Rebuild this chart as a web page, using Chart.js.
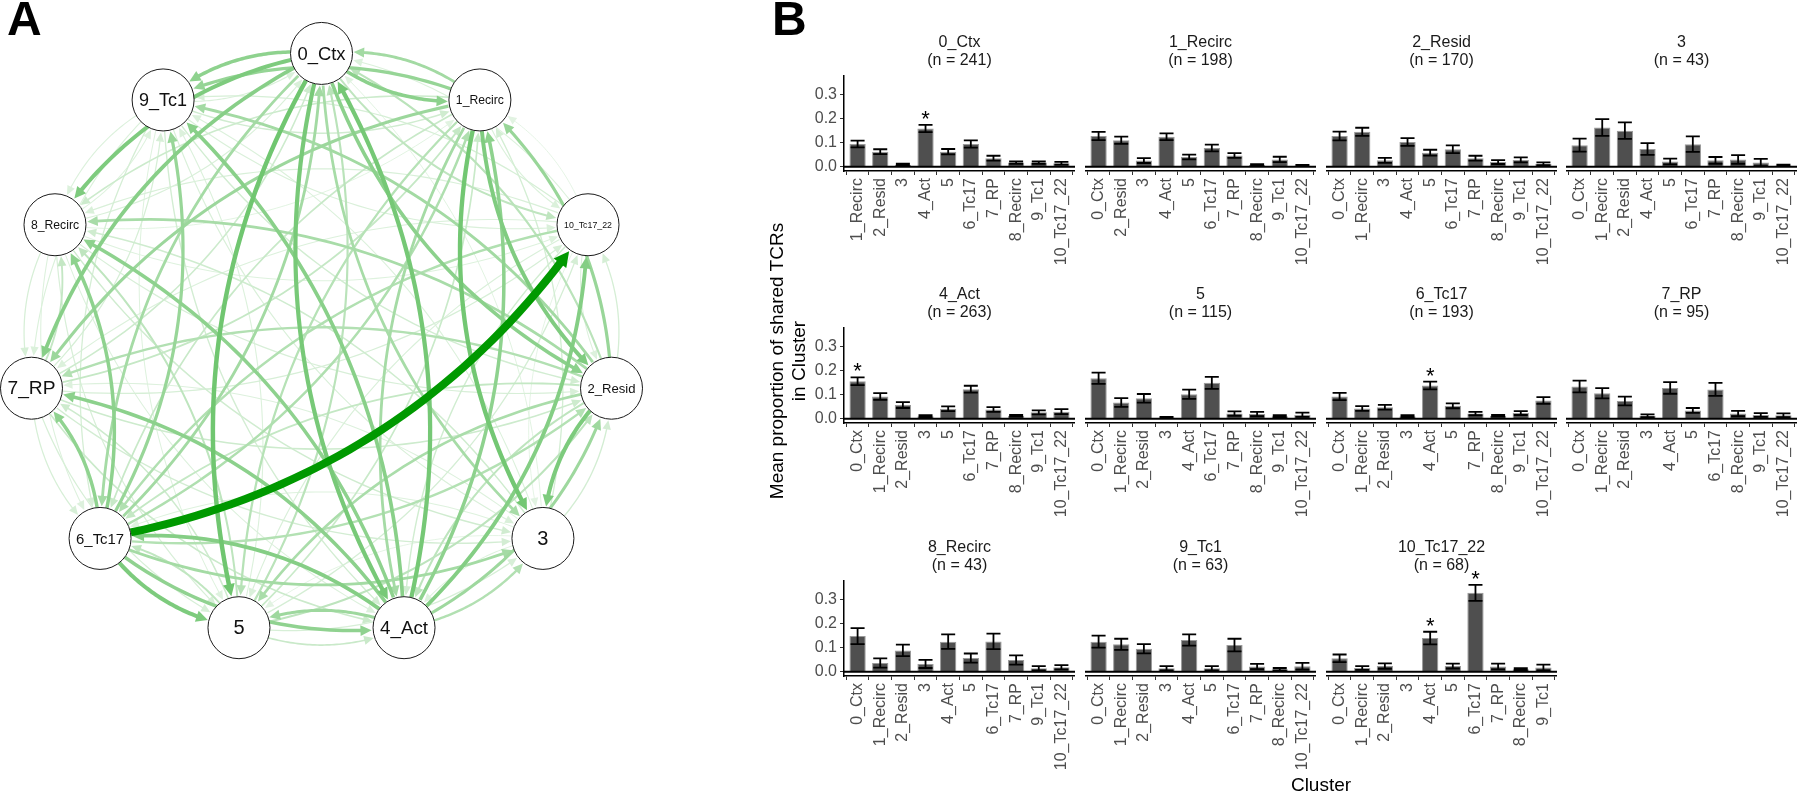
<!DOCTYPE html>
<html>
<head>
<meta charset="utf-8">
<script src="https://cdn.jsdelivr.net/npm/chart.js@4.4.1/dist/chart.umd.min.js"></script>
<style>
  html, body { margin: 0; padding: 0; background: #fff; }
  body { width: 1800px; height: 795px; position: relative; overflow: hidden; font-family: "Liberation Sans", Arial, sans-serif; }
  .tag { position: absolute; top: -5px; font-size: 48px; font-weight: bold; line-height: 48px; color: #000; z-index: 3; }
  #ytitle { position: absolute; left: 588px; top: 339px; width: 400px; height: 44px; font-size: 19px; line-height: 22px;
            text-align: center; transform: rotate(-90deg); transform-origin: 50% 50%; color: #000; z-index: 3; }
  #xtitle { position: absolute; left: 1221px; top: 774px; width: 200px; text-align: center; font-size: 19px; line-height: 22px; color: #000; z-index: 3; }
</style>
</head>
<body>
<div class="tag" style="left:7px">A</div>
<div class="tag" style="left:772px">B</div>
<div id="ytitle">Mean proportion of shared TCRs<br>in Cluster</div>
<div id="xtitle">Cluster</div>
<script>
// clusters, numeric order (facet order) and the order round the network circle
const clusterNames = ['0_Ctx', '1_Recirc', '2_Resid', '3', '4_Act', '5', '6_Tc17', '7_RP', '8_Recirc', '9_Tc1', '10_Tc17_22'];
const clusterN = [241, 198, 170, 43, 263, 115, 193, 95, 43, 63, 68];
const networkOrder = ['0_Ctx', '1_Recirc', '10_Tc17_22', '2_Resid', '3', '4_Act', '5', '6_Tc17', '7_RP', '8_Recirc', '9_Tc1'];
const yTicks = [0, 0.1, 0.2, 0.3];

// mean proportion shared with every other cluster (bars) and error half-widths
const mean0Ctx = [0.094, 0.062, 0.008, 0.158, 0.062, 0.094, 0.035, 0.017, 0.017, 0.014];
const err0Ctx = [0.014, 0.010, 0.004, 0.015, 0.011, 0.015, 0.010, 0.005, 0.005, 0.006];
const mean1Recirc = [0.127, 0.109, 0.025, 0.124, 0.040, 0.077, 0.046, 0.007, 0.030, 0.005];
const err1Recirc = [0.017, 0.015, 0.010, 0.014, 0.010, 0.014, 0.010, 0.003, 0.011, 0.002];
const mean2Resid = [0.127, 0.144, 0.026, 0.102, 0.058, 0.072, 0.035, 0.019, 0.028, 0.012];
const err2Resid = [0.018, 0.017, 0.010, 0.016, 0.012, 0.016, 0.010, 0.008, 0.010, 0.006];
const mean3 = [0.089, 0.162, 0.149, 0.073, 0.021, 0.093, 0.026, 0.030, 0.017, 0.005];
const err3 = [0.027, 0.035, 0.034, 0.024, 0.012, 0.032, 0.014, 0.018, 0.015, 0.003];
const mean4Act = [0.155, 0.092, 0.056, 0.010, 0.041, 0.122, 0.038, 0.012, 0.026, 0.029];
const err4Act = [0.016, 0.014, 0.012, 0.004, 0.010, 0.014, 0.010, 0.004, 0.008, 0.010];
const mean5 = [0.167, 0.067, 0.084, 0.005, 0.101, 0.148, 0.021, 0.019, 0.010, 0.016];
const err5 = [0.023, 0.018, 0.018, 0.002, 0.019, 0.025, 0.009, 0.009, 0.004, 0.009];
const mean6Tc17 = [0.092, 0.042, 0.047, 0.010, 0.137, 0.053, 0.021, 0.012, 0.023, 0.075];
const err6Tc17 = [0.015, 0.010, 0.010, 0.004, 0.016, 0.010, 0.007, 0.004, 0.008, 0.014];
const mean7RP = [0.133, 0.105, 0.073, 0.012, 0.127, 0.034, 0.121, 0.021, 0.015, 0.014];
const err7RP = [0.024, 0.021, 0.018, 0.006, 0.024, 0.010, 0.027, 0.011, 0.008, 0.008];
const mean8Recirc = [0.147, 0.036, 0.088, 0.032, 0.124, 0.056, 0.125, 0.048, 0.014, 0.018];
const err8Recirc = [0.033, 0.019, 0.024, 0.017, 0.030, 0.019, 0.032, 0.019, 0.009, 0.009];
const mean9Tc1 = [0.124, 0.113, 0.095, 0.014, 0.131, 0.014, 0.110, 0.021, 0.010, 0.022];
const err9Tc1 = [0.025, 0.023, 0.019, 0.009, 0.023, 0.009, 0.026, 0.011, 0.005, 0.014];
const mean10Tc1722 = [0.055, 0.015, 0.023, 0.000, 0.139, 0.023, 0.326, 0.021, 0.010, 0.017];
const err10Tc1722 = [0.016, 0.008, 0.011, 0.000, 0.026, 0.010, 0.033, 0.012, 0.004, 0.012];

// significant bars (asterisks)
const star0Ctx = ['4_Act'];
const star4Act = ['0_Ctx'];
const star6Tc17 = ['4_Act'];
const star10Tc1722 = ['4_Act', '6_Tc17'];

const meanList = [mean0Ctx, mean1Recirc, mean2Resid, mean3, mean4Act, mean5, mean6Tc17, mean7RP, mean8Recirc, mean9Tc1, mean10Tc1722];
const errList = [err0Ctx, err1Recirc, err2Resid, err3, err4Act, err5, err6Tc17, err7RP, err8Recirc, err9Tc1, err10Tc1722];
const starList = [star0Ctx, [], [], [], star4Act, [], star6Tc17, [], [], [], star10Tc1722];

const facets = clusterNames.map((name, i) => ({
    name, n: clusterN[i], mean: meanList[i], err: errList[i], stars: starList[i],
    cats: clusterNames.filter(c => c !== name)
}));

// network edges: bar category -> facet cluster, weight = mean proportion
const edges = [];
facets.forEach(f => f.cats.forEach((c, j) => { if (f.mean[j] > 0) edges.push({ from: c, to: f.name, w: f.mean[j] }); }));
edges.sort((a, b) => a.w - b.w);

// layout
const FONT = '"Liberation Sans", Arial, sans-serif';
const colLeft = [844, 1085, 1326, 1566];
const rowTop = [76, 328, 581];
const PLOT_W = 231, PLOT_H = 95, YAXIS_W = 60, XAXIS_H = 105, TITLE_H = 50;
const NODE_R = 31;
Chart.defaults.font.family = FONT;

function makeCanvas(left, top, w, h) {
    const c = document.createElement('canvas');
    c.width = w; c.height = h;
    c.style.cssText = `position:absolute;left:${left}px;top:${top}px;width:${w}px;height:${h}px;`;
    document.body.appendChild(c);
    return c;
}

// ---------- panel A: network ----------
const edgePlugin = {
    id: 'edges',
    beforeDatasetsDraw(chart) {
        const pts = chart.getDatasetMeta(0).data;
        const ctx = chart.ctx;
        const wMax = Math.max(...edges.map(e => e.w));
        ctx.save();
        edges.forEach(e => {
            const a = pts[networkOrder.indexOf(e.from)], b = pts[networkOrder.indexOf(e.to)];
            const dx = b.x - a.x, dy = b.y - a.y;
            const cx = (a.x + b.x) / 2 - dy * 0.21, cy = (a.y + b.y) / 2 + dx * 0.21;
            const P = t => [(1 - t) * (1 - t) * a.x + 2 * t * (1 - t) * cx + t * t * b.x,
                            (1 - t) * (1 - t) * a.y + 2 * t * (1 - t) * cy + t * t * b.y];
            const dist = (p, q) => Math.hypot(p[0] - q[0], p[1] - q[1]);
            let t0 = 0; while (t0 < 1 && dist(P(t0), [a.x, a.y]) < NODE_R) t0 += 0.002;
            let t1 = 1; while (t1 > 0 && dist(P(t1), [b.x, b.y]) < NODE_R + 1) t1 -= 0.002;
            const tip = P(t1);
            const lw = 0.8 + e.w * 22;
            const al = 8 + lw * 0.9, aw = 3.5 + lw * 0.55;
            let t2 = t1; while (t2 > t0 && dist(P(t2), tip) < al * 0.8) t2 -= 0.002;
            const k = 0.1 + 0.9 * e.w / wMax;
            const rb = Math.round(255 * (1 - k)), g = Math.round(255 - 102 * k);
            const col = `rgb(${rb},${g},${rb})`;
            ctx.strokeStyle = col; ctx.fillStyle = col; ctx.lineWidth = lw; ctx.lineCap = 'butt';
            ctx.beginPath();
            const steps = 40;
            for (let s = 0; s <= steps; s++) {
                const p = P(t0 + (t2 - t0) * s / steps);
                if (s === 0) ctx.moveTo(p[0], p[1]); else ctx.lineTo(p[0], p[1]);
            }
            ctx.stroke();
            // arrow head
            const q = P(t2);
            let ux = tip[0] - q[0], uy = tip[1] - q[1];
            const ul = Math.hypot(ux, uy) || 1; ux /= ul; uy /= ul;
            const bx = tip[0] - ux * al, by = tip[1] - uy * al;
            ctx.beginPath();
            ctx.moveTo(tip[0], tip[1]);
            ctx.lineTo(bx - uy * aw, by + ux * aw);
            ctx.lineTo(bx + uy * aw, by - ux * aw);
            ctx.closePath();
            ctx.fill();
        });
        ctx.restore();
    }
};

const nodeLabels = {
    id: 'nodeLabels',
    afterDatasetsDraw(chart) {
        const pts = chart.getDatasetMeta(0).data;
        const ctx = chart.ctx;
        ctx.save();
        ctx.fillStyle = '#111'; ctx.textAlign = 'center'; ctx.textBaseline = 'middle';
        pts.forEach((p, i) => {
            const name = networkOrder[i];
            ctx.font = '100px ' + FONT;
            const size = Math.min(20, 4800 / ctx.measureText(name).width);
            ctx.font = size.toFixed(1) + 'px ' + FONT;
            ctx.fillText(name, p.x, p.y + 1);
        });
        ctx.restore();
    }
};

const nodeXY = networkOrder.map((n, i) => {
    const a = i * 2 * Math.PI / networkOrder.length;
    return { x: Math.sin(a), y: Math.cos(a) };
});

new Chart(makeCanvas(0, 0, 643, 693), {
    type: 'scatter',
    data: { datasets: [{ data: nodeXY, pointRadius: NODE_R, pointBackgroundColor: '#fff', pointBorderColor: '#1a1a1a', pointBorderWidth: 1, clip: false }] },
    options: {
        responsive: false, animation: false, events: [],
        layout: { padding: 0, autoPadding: false },
        plugins: { legend: { display: false }, tooltip: { enabled: false } },
        scales: {
            x: { display: false, min: -1.0973, max: 1.0973 },
            y: { display: false, min: -1.1823, max: 1.1823 }
        }
    },
    plugins: [edgePlugin, nodeLabels]
});

// ---------- panel B: faceted bars ----------
const errBars = {
    id: 'errBars',
    afterDatasetsDraw(chart) {
        const ds = chart.data.datasets[0];
        const meta = chart.getDatasetMeta(0);
        const ys = chart.scales.y, ctx = chart.ctx, area = chart.chartArea;
        ctx.save();
        const y0 = ys.getPixelForValue(0);
        ctx.strokeStyle = '#000'; ctx.lineWidth = 2;
        ctx.beginPath(); ctx.moveTo(area.left, y0); ctx.lineTo(area.right, y0); ctx.stroke();
        ctx.lineWidth = 1.8;
        meta.data.forEach((bar, i) => {
            const v = ds.data[i].y, e = ds.err[i];
            if (!e) return;
            const yt = ys.getPixelForValue(v + e), yb = ys.getPixelForValue(v - e);
            ctx.beginPath();
            ctx.moveTo(bar.x, yt); ctx.lineTo(bar.x, yb);
            ctx.moveTo(bar.x - 7, yt); ctx.lineTo(bar.x + 7, yt);
            ctx.moveTo(bar.x - 7, yb); ctx.lineTo(bar.x + 7, yb);
            ctx.stroke();
        });
        ctx.fillStyle = '#000'; ctx.font = '22px ' + FONT;
        ctx.textAlign = 'center'; ctx.textBaseline = 'alphabetic';
        ds.stars.forEach(name => {
            const i = ds.cats.indexOf(name);
            const bar = meta.data[i];
            ctx.fillText('*', bar.x, ys.getPixelForValue(ds.data[i].y + ds.err[i]) + 1);
        });
        ctx.restore();
    }
};

facets.forEach((f, idx) => {
    const col = idx % 4, row = Math.floor(idx / 4);
    const withY = col === 0;
    const left = colLeft[col] - (withY ? YAXIS_W : 0);
    const w = PLOT_W + (withY ? YAXIS_W : 0);
    const cv = makeCanvas(left, rowTop[row] - TITLE_H, w, TITLE_H + PLOT_H + XAXIS_H);
    new Chart(cv, {
        type: 'bar',
        data: {
            datasets: [{
                data: f.mean.map((v, i) => ({ x: i, y: v })),
                err: f.err, stars: f.stars, cats: f.cats,
                backgroundColor: '#4f4f4f', borderColor: '#9a9a9a', borderWidth: 1,
                barPercentage: 0.72, categoryPercentage: 1
            }]
        },
        options: {
            responsive: false, animation: false, events: [],
            layout: { padding: 0 },
            plugins: {
                legend: { display: false }, tooltip: { enabled: false },
                title: {
                    display: true, fullSize: false, text: [f.name, '(n = ' + f.n + ')'],
                    color: '#1a1a1a', font: { size: 16, weight: 'normal', lineHeight: 1.1 },
                    padding: { top: 7.8, bottom: 7 }
                }
            },
            scales: {
                x: {
                    type: 'linear', min: -0.6, max: f.cats.length - 0.4, offset: false,
                    afterBuildTicks: s => { s.ticks = f.cats.map((c, i) => ({ value: i })); },
                    ticks: {
                        autoSkip: false, minRotation: 90, maxRotation: 90, padding: 3,
                        color: '#4d4d4d', font: { size: 16 },
                        callback: v => f.cats[v]
                    },
                    grid: { drawOnChartArea: false, drawTicks: true, tickLength: 4, color: '#333' },
                    border: { display: true, color: '#000', width: 1.5 },
                    afterFit: s => { s.height = XAXIS_H; s.paddingLeft = 0; s.paddingRight = 0; }
                },
                y: {
                    display: withY, min: -0.018, max: 0.375,
                    afterBuildTicks: s => { s.ticks = yTicks.map(v => ({ value: v })); },
                    ticks: { color: '#4d4d4d', font: { size: 16 }, padding: 3, callback: v => v.toFixed(1) },
                    grid: { drawOnChartArea: false, drawTicks: true, tickLength: 4, color: '#333' },
                    border: { display: true, color: '#000', width: 1.5 },
                    afterFit: s => { if (withY) s.width = YAXIS_W; s.paddingTop = 0; s.paddingBottom = 0; }
                }
            }
        },
        plugins: [errBars]
    });
});
</script>
</body>
</html>
